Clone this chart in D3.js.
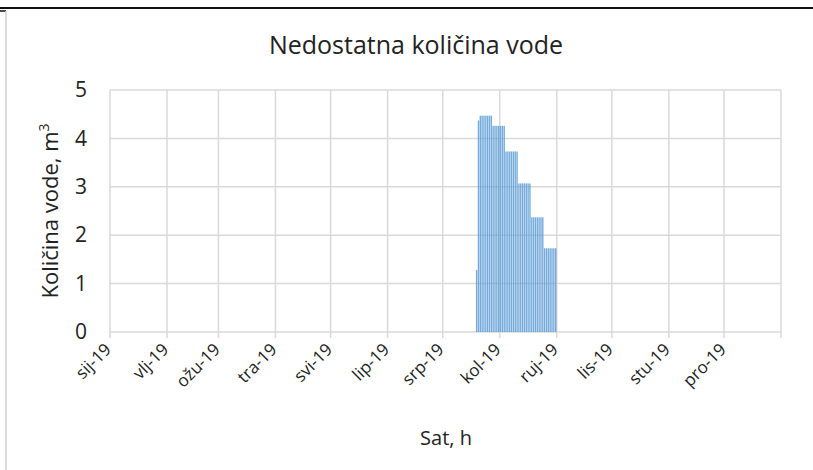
<!DOCTYPE html>
<html>
<head>
<meta charset="utf-8">
<script src="https://cdn.jsdelivr.net/npm/d3@7"></script>
<style>
  html, body { margin: 0; padding: 0; background: #fff; }
  #wrap { position: relative; width: 813px; height: 470px; }
  svg { display: block; font-family: "Open Sans", "Noto Sans", sans-serif; }
  .xlab { position: absolute; width: 0; height: 0; }
  .xlab span {
    position: absolute; right: 0; bottom: -4px;
    font-family: "Open Sans", "Noto Sans", sans-serif;
    font-size: 17px; line-height: 17px; color: #222; white-space: nowrap;
    transform-origin: 100% 100%; transform: rotate(-45deg);
  }
</style>
</head>
<body>
<div id="wrap"><svg id="chart" width="813" height="470"></svg></div>
<script>
// Daily shortfall of water (m³), 19 Jul 2019 – 31 Aug 2019
const seriesStart = "2019-07-19";
const shortfall = [
  1.28, 4.37,
  4.47, 4.47, 4.47, 4.47, 4.47, 4.47, 4.47,
  4.26, 4.26, 4.26, 4.26, 4.26, 4.26, 4.26,
  3.73, 3.73, 3.73, 3.73, 3.73, 3.73, 3.73,
  3.07, 3.07, 3.07, 3.07, 3.07, 3.07, 3.07,
  2.37, 2.37, 2.37, 2.37, 2.37, 2.37, 2.37,
  1.73, 1.73, 1.73, 1.73, 1.73, 1.73, 1.73
];

// Month tick labels (Croatian abbreviations)
const monthLabels = ["sij-19", "vlj-19", "ožu-19", "tra-19", "svi-19", "lip-19",
                     "srp-19", "kol-19", "ruj-19", "lis-19", "stu-19", "pro-19", ""];
const yTicks = [0, 1, 2, 3, 4, 5];

const chartTitle = "Nedostatna količina vode";
const xTitle = "Sat, h";

const svg = d3.select("#chart");
const W = 813, H = 470;
const plot = { left: 110, right: 781, top: 90, bottom: 332 };

const parse = d3.timeParse("%Y-%m-%d");
const start = parse(seriesStart);
const data = shortfall.map((v, i) => ({ date: d3.timeDay.offset(start, i), value: v }));

const x = d3.scaleTime()
  .domain([new Date(2019, 0, 1), new Date(2020, 0, 1)])
  .range([plot.left, plot.right]);
const y = d3.scaleLinear().domain([0, 5]).range([plot.bottom, plot.top]);

const monthTicks = d3.timeMonth.range(new Date(2019, 0, 1), new Date(2020, 0, 2));

// Chart frame
svg.append("line").attr("x1", 0).attr("x2", W).attr("y1", 8).attr("y2", 8)
  .attr("stroke", "#111").attr("stroke-width", 2);
svg.append("line").attr("x1", 0).attr("x2", 6).attr("y1", 11).attr("y2", 11)
  .attr("stroke", "#111").attr("stroke-width", 1.5);
svg.append("line").attr("x1", 6).attr("x2", 6).attr("y1", 11).attr("y2", H)
  .attr("stroke", "#d0d0d0").attr("stroke-width", 1.5);

// Gridlines
const grid = svg.append("g").attr("stroke", "#d9d9d9").attr("stroke-width", 1.5);
grid.selectAll("line.h").data(yTicks).join("line")
  .attr("x1", plot.left).attr("x2", plot.right)
  .attr("y1", d => y(d)).attr("y2", d => y(d));
grid.selectAll("line.v").data(monthTicks).join("line")
  .attr("x1", d => x(d)).attr("x2", d => x(d))
  .attr("y1", plot.top).attr("y2", plot.bottom + 6);

// Daily bars
const dayW = x(new Date(2019, 0, 2)) - x(new Date(2019, 0, 1));
svg.append("g").selectAll("rect").data(data).join("rect")
  .attr("x", d => x(d.date) + 0.1)
  .attr("width", dayW * 0.75)
  .attr("y", d => y(d.value))
  .attr("height", d => y(0) - y(d.value))
  .attr("fill", "#5b9bd5")
  .attr("fill-opacity", 0.85);

// Y axis
const yAxis = d3.axisLeft(y).tickValues(yTicks).tickFormat(d3.format("d"))
  .tickSize(0).tickPadding(0);
const gy = svg.append("g").attr("transform", `translate(${plot.left - 23},0)`).call(yAxis);
gy.select(".domain").remove();
gy.selectAll("text").attr("font-size", 21).attr("fill", "#222")
  .attr("font-family", "Open Sans, sans-serif");

// X axis month labels, turned 45° counter-clockwise around their end point
d3.select("#wrap").selectAll("div.xlab").data(monthTicks).join("div")
  .attr("class", "xlab")
  .style("left", d => `${x(d) + 4}px`)
  .style("top", `${plot.bottom + 16}px`)
  .append("span")
  .text((d, i) => monthLabels[i]);

// Titles
svg.append("text").attr("x", 416).attr("y", 54).attr("text-anchor", "middle")
  .attr("font-size", 25).attr("fill", "#222").text(chartTitle);

svg.append("text").attr("x", 446).attr("y", 445).attr("text-anchor", "middle")
  .attr("font-size", 20).attr("fill", "#222").text(xTitle);

const yt = svg.append("text")
  .attr("transform", `translate(58,${(plot.top + plot.bottom) / 2}) rotate(-90)`)
  .attr("text-anchor", "middle").attr("font-size", 22).attr("fill", "#222");
yt.append("tspan").text("Količina vode, m");
yt.append("tspan").attr("font-size", 14).attr("dy", -9).text("3");
</script>
</body>
</html>
